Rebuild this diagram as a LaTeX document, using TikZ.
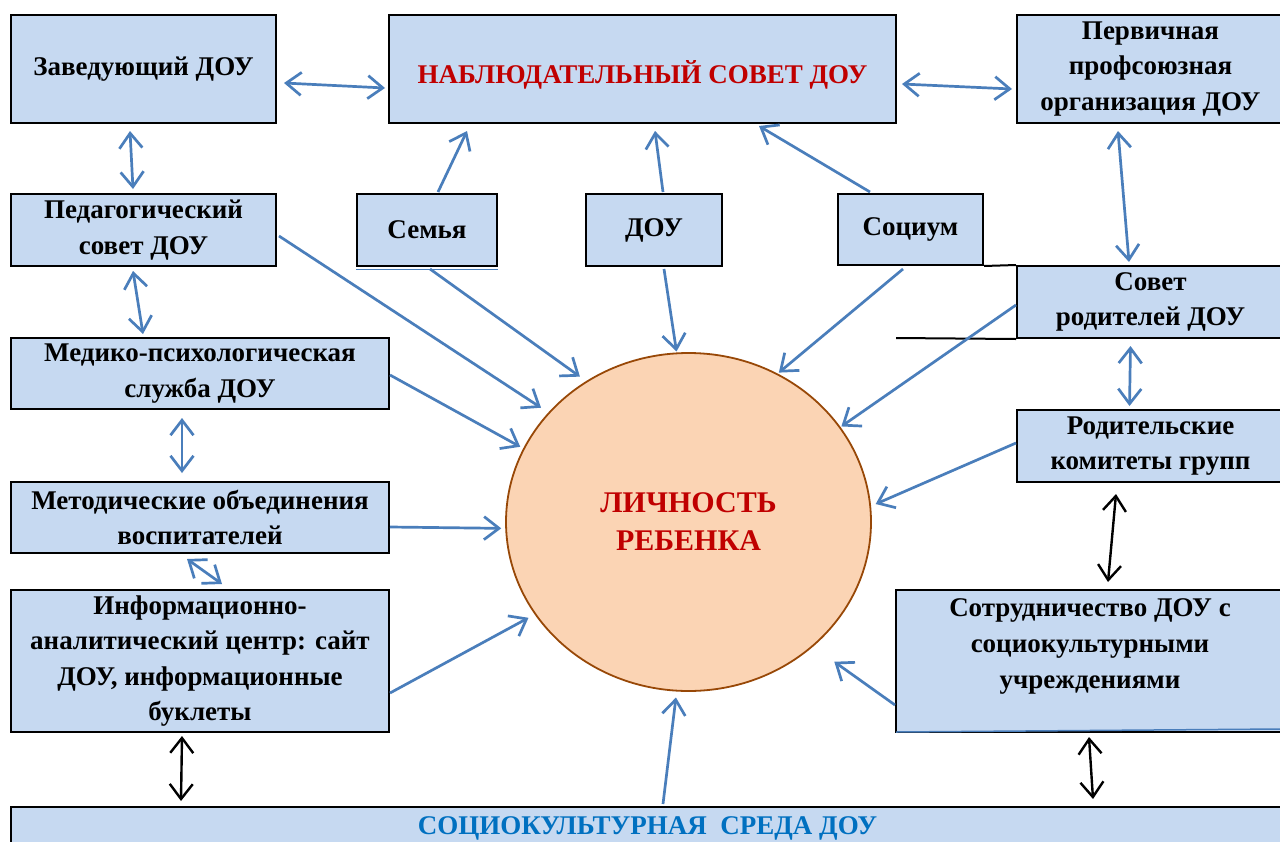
\documentclass[tikz,border=0pt]{standalone}
\usepackage{fontspec}
\setmainfont{Liberation Serif}
\usetikzlibrary{arrows.meta,shapes.geometric}
\definecolor{boxfill}{HTML}{C6D9F1}
\definecolor{arrblue}{HTML}{4A7EBB}
\definecolor{circfill}{HTML}{FBD4B4}
\definecolor{circline}{HTML}{984807}
\definecolor{redtxt}{HTML}{C00000}
\definecolor{bluetxt}{HTML}{0070C0}
\begin{document}
\begin{tikzpicture}[x=1pt,y=-1pt,
  >={Straight Barb[length=15pt,width=23pt]},
  box/.style={draw=black, line width=2pt, fill=boxfill, align=center, inner sep=0pt,
    font=\bfseries\fontsize{27}{35.5}\selectfont},
  txt/.style={align=center, inner sep=0pt, font=\bfseries\fontsize{27}{36}\selectfont},
  bl/.style={draw=arrblue, line width=2.7pt},
  bk/.style={draw=black, line width=2.4pt}]
\useasboundingbox (0,0) rectangle (1280,841);
\clip (0,0) rectangle (1280,841);
\fill[white] (0,0) rectangle (1280,841);

% boxes
\node[box, minimum width=265pt, minimum height=108pt] (zav) at (143.5,69) {Заведующий ДОУ};
\node[box, minimum width=507pt, minimum height=108pt] (nab) at (642.5,69) {};
\node[txt, text=redtxt] (nabt) at (642.5,75) {НАБЛЮДАТЕЛЬНЫЙ СОВЕТ ДОУ};
\node[box, minimum width=267pt, minimum height=108pt] (perv) at (1150.5,69) {Первичная\\профсоюзная\\организация ДОУ};
\node[box, minimum width=265pt, minimum height=72pt] (ped) at (143.5,230) {Педагогический\\совет ДОУ};
\node[box, minimum width=140pt, minimum height=72pt] (sem) at (427,230) {Семья};
\node[box, minimum width=136pt, minimum height=72pt] (dou) at (654,230) {ДОУ};
\node[box, minimum width=145pt, minimum height=71pt] (soc) at (910.5,229.5) {Социум};
\node[box, minimum width=267pt, minimum height=72pt] (sov) at (1150.5,302) {Совет\\родителей ДОУ};
\node[box, minimum width=378pt, minimum height=71pt] (med) at (200,373.5) {Медико-психологическая\\служба ДОУ};
\node[box, minimum width=267pt, minimum height=72pt] (rod) at (1150.5,446) {Родительские\\комитеты групп};
\node[box, minimum width=378pt, minimum height=71pt] (met) at (200,517.5) {Методические объединения\\воспитателей};
\node[box, minimum width=378pt, minimum height=142pt] (inf) at (200,661) {Информационно-\\аналитический центр: сайт\\ДОУ, информационные\\буклеты};
\node[box, minimum width=388pt, minimum height=142pt] (sotr) at (1090,661) {};
\node[txt] (sotrt) at (1090,646) {Сотрудничество ДОУ с\\социокультурными\\учреждениями};
\node[box, minimum width=1273pt, minimum height=43pt, text=bluetxt] (sreda) at (647.5,828.5) {СОЦИОКУЛЬТУРНАЯ\ \ СРЕДА ДОУ};

% circle
\node[ellipse, draw=circline, line width=1.8pt, fill=circfill, minimum width=365pt,
  minimum height=338pt, inner sep=0pt, align=center, text=redtxt,
  font=\bfseries\fontsize{30}{38}\selectfont] (lich) at (688.5,522) {ЛИЧНОСТЬ\\РЕБЕНКА};

% extra lines
\coordinate (lx) at (896,338);
\draw[arrblue, line width=1.5pt] ([yshift=-2.5pt]sem.south west) -- ([yshift=-2.5pt]sem.south east);
\draw[black, line width=2pt] (soc.south east) -- (sov.north west);
\draw[black, line width=2pt] (lx) -- (sov.south west);
\draw[arrblue, line width=1.5pt] ([shift={(1pt,1pt)}]sotr.south west) -- ([shift={(-4pt,4pt)}]sotr.south east);

% double arrows
\draw[bl,<->] ([shift={(7pt,-14pt)}]zav.east) -- ([shift={(-3pt,-19pt)}]nab.west);
\draw[bl,<->] ([shift={(5pt,-15pt)}]nab.east) -- ([shift={(-4pt,-20pt)}]perv.west);
\draw[bl,<->] ([shift={(-13.5pt,-7pt)}]zav.south) -- ([shift={(-10.5pt,4pt)}]ped.north);
\draw[bl,<->] ([shift={(-10.5pt,-4pt)}]ped.south) -- ([shift={(-57pt,3pt)}]med.north);
\draw[bl,<->] ([shift={(-18pt,-8pt)}]med.south) -- ([shift={(-18pt,8pt)}]met.north);
\draw[bl,<->] ([shift={(-13pt,-5pt)}]met.south) -- ([shift={(22pt,5pt)}]inf.north);
\draw[bk,<->] ([shift={(-18pt,-3pt)}]inf.south) -- ([shift={(171pt,5pt)}]sreda.north west);
\draw[bl,<->] ([shift={(-32.5pt,-7pt)}]perv.south) -- ([shift={(-21.5pt,3pt)}]sov.north);
\draw[bl,<->] ([shift={(-20pt,-7pt)}]sov.south) -- ([shift={(-21pt,3pt)}]rod.north);
\draw[bk,<->] ([shift={(-34.5pt,-11pt)}]rod.south) -- ([shift={(18pt,7pt)}]sotr.north);
\draw[bk,<->] ([shift={(-1pt,-4pt)}]sotr.south) -- ([shift={(-192pt,7pt)}]sreda.north east);

% to the council
\draw[bl,->] ([shift={(11pt,1pt)}]sem.north) -- ([shift={(-175.5pt,-7pt)}]nab.south);
\draw[bl,->] ([shift={(9pt,1pt)}]dou.north) -- ([shift={(12.5pt,-7pt)}]nab.south);
\draw[bl,->] ([shift={(-40.5pt,1pt)}]soc.north) -- ([shift={(116.5pt,-2pt)}]nab.south);

% to the circle
\draw[bl,->,shorten >=8.7pt] ([shift={(2pt,-6pt)}]ped.east) -- (lich.142.5);
\draw[bl,->,shorten >=7.6pt] ([shift={(3pt,-2pt)}]sem.south) -- (lich.126.8);
\draw[bl,->,shorten >=1pt] ([shift={(10pt,-2pt)}]dou.south) -- (lich.94.2);
\draw[bl,->,shorten >=1.5pt] ([shift={(-7.5pt,-3pt)}]soc.south) -- (lich.59.7);
\draw[bl,->,shorten >=1pt] ([shift={(0pt,-3pt)}]sov.west) -- (lich.32.8);
\draw[bl,->,shorten >=3.4pt] ([shift={(0pt,-1.5pt)}]med.east) -- (lich.156.6);
\draw[bl,->,shorten >=5pt] ([shift={(0pt,3pt)}]rod.west) -- (lich.5.8);
\draw[bl,->,shorten >=4pt] ([shift={(0pt,-9.5pt)}]met.east) -- (lich.182.1);
\draw[bl,->,shorten >=7pt] ([shift={(0pt,-32pt)}]inf.east) -- (lich.211.9);
\draw[bl,->,shorten >=6pt] ([shift={(15.5pt,2pt)}]sreda.north) -- (lich.266.2);
\draw[bl,->,shorten >=26pt] ([shift={(0pt,-44pt)}]sotr.west) -- (lich.315.7);
\end{tikzpicture}
\end{document}
